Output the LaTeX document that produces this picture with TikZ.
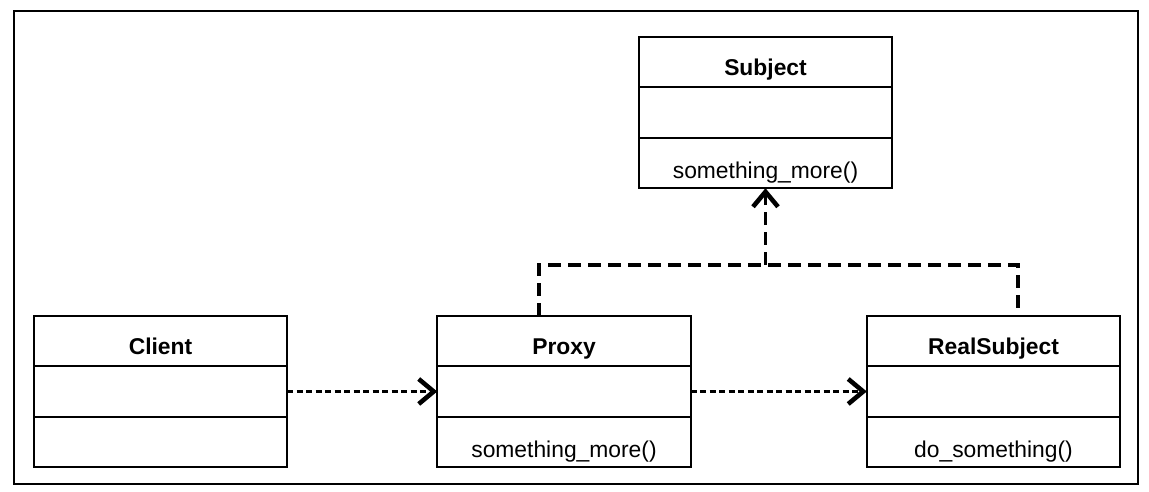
\documentclass[tikz,border=0pt]{standalone}
\usepackage{fontspec}
\setmainfont{Liberation Sans}
\usetikzlibrary{positioning,arrows.meta}

\tikzset{
  part/.style={draw,line width=1.1pt,minimum width=5.07cm,minimum height=1.01cm,
    inner sep=0pt,outer sep=0pt,font=\fontsize{13}{15}\selectfont},
  titlepart/.style={part,font=\fontsize{13}{15}\selectfont\bfseries,text height=15pt,text depth=0pt},
  methodpart/.style={part,text height=18pt,text depth=0pt},
  openhead/.style={-{Straight Barb[length=0.3cm,width=0.5cm,line width=2.6pt]}},
  depline/.style={openhead,line width=1.5pt,dash pattern=on 0.12cm off 0.07cm},
  treeline/.style={line width=2pt,dash pattern=on 0.26cm off 0.14cm}
}

\begin{document}
\begin{tikzpicture}[x=0.02cm,y=-0.02cm]
\useasboundingbox (0,0) rectangle (1149,492);

% Outer frame
\draw[line width=1.1pt] (14,11) rectangle (1138,484);

% Subject class
\node[titlepart] (subject-name) at (765.5,62) {Subject};
\node[part,below=0pt of subject-name] (subject-attr) {};
\node[methodpart,below=0pt of subject-attr] (subject-ops) {something\_more()};

% Client class
\node[titlepart] (client-name) at (160.5,341) {Client};
\node[part,below=0pt of client-name] (client-attr) {};
\node[part,below=0pt of client-attr] (client-ops) {};

% Proxy class
\node[titlepart] (proxy-name) at (564,341) {Proxy};
\node[part,below=0pt of proxy-name] (proxy-attr) {};
\node[methodpart,below=0pt of proxy-attr] (proxy-ops) {something\_more()};

% RealSubject class
\node[titlepart] (real-name) at (993.5,341) {RealSubject};
\node[part,below=0pt of real-name] (real-attr) {};
\node[methodpart,below=0pt of real-attr] (real-ops) {do\_something()};

% Dependencies
\draw[depline] (client-attr.east) -- (proxy-attr.west);
\draw[depline] (proxy-attr.east) -- (real-attr.west);

% Realization of Subject
\coordinate (join) at (765.5,265);
\draw[treeline] ([xshift=-0.5cm]proxy-name.north) |- (join) -| ([xshift=0.49cm]real-name.north);
\draw[treeline,openhead] (join) -- (subject-ops.south);

\end{tikzpicture}
\end{document}
